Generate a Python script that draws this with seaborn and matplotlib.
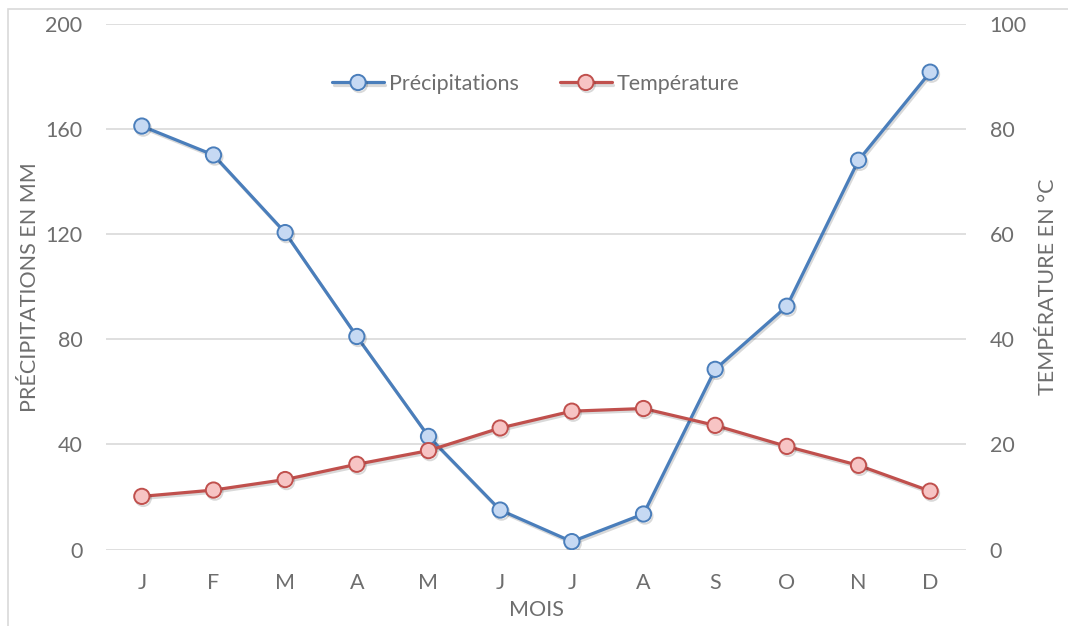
import matplotlib
matplotlib.use("Agg")
import matplotlib.pyplot as plt
import matplotlib.patheffects as pe
import seaborn as sns
import pandas as pd

months = ["J", "F", "M", "A", "M", "J", "J", "A", "S", "O", "N", "D"]
precipitations = [161, 150, 120.5, 81, 43, 15, 3, 13.5, 68.5, 92.5, 148, 181.5]
temperatures = [10.1, 11.3, 13.3, 16.2, 18.8, 23.1, 26.3, 26.8, 23.6, 19.6, 16.0, 11.1]
precip_ticks = [0, 40, 80, 120, 160, 200]
temp_ticks = [0, 20, 40, 60, 80, 100]

sns.set_theme(style="white")
plt.rcParams["font.family"] = ["Lato", "DejaVu Sans"]

W, H = 1068, 626
FS = 15.5
TXT = "#6e6e6e"
GRID = "#d9d9d9"
BLUE = "#4a7ebb"
BLUE_FACE = "#c6d9f3"
RED = "#c0504d"
RED_FACE = "#f7c4c4"

df = pd.DataFrame({"pos": range(len(months)), "mois": months,
                   "precip": precipitations, "temp": temperatures})

fig = plt.figure(figsize=(W / 100, H / 100), dpi=100)
ax = fig.add_axes([106 / W, 1 - 549.5 / H, 860 / W, 526 / H])
ax2 = ax.twinx()

shadow = [pe.SimpleLineShadow(offset=(1.0, -1.5), alpha=0.15, shadow_color="black"),
          pe.Normal()]

sns.lineplot(data=df, x="pos", y="precip", ax=ax, color=BLUE, lw=2.3,
             marker="o", markersize=11, markerfacecolor=BLUE_FACE,
             markeredgecolor=BLUE, markeredgewidth=1.4, label="Précipitations",
             legend=False, zorder=3)
sns.lineplot(data=df, x="pos", y="temp", ax=ax2, color=RED, lw=2.3,
             marker="o", markersize=11, markerfacecolor=RED_FACE,
             markeredgecolor=RED, markeredgewidth=1.4, label="Température",
             legend=False, zorder=3)
for line in ax.get_lines() + ax2.get_lines():
    line.set_path_effects(shadow)

ax.set_xlim(-0.5, len(months) - 0.5)
ax.set_ylim(0, 200)
ax2.set_ylim(0, 100)
ax.set_xticks(range(len(months)))
ax.set_xticklabels(months)
ax.set_yticks(precip_ticks)
ax2.set_yticks(temp_ticks)
ax.yaxis.grid(True, color=GRID, lw=1.2)
ax.set_axisbelow(True)
ax.set_xlabel("")
ax.set_ylabel("")
ax2.set_ylabel("")

for a in (ax, ax2):
    for s in a.spines.values():
        s.set_visible(False)
    a.tick_params(colors=TXT, labelsize=FS, length=0)
ax.tick_params(axis="y", pad=17)
ax2.tick_params(axis="y", pad=17)
ax.tick_params(axis="x", pad=17)

# axis titles
fig.text(30 / W, 1 - 287 / H, "PRÉCIPITATIONS EN MM", rotation=90, color=TXT,
         fontsize=FS, ha="center", va="center")
fig.text(1048 / W, 1 - 287 / H, "TEMPÉRATURE EN °C", rotation=90, color=TXT,
         fontsize=FS, ha="center", va="center")
fig.text(536 / W, 1 - 610 / H, "MOIS", color=TXT, fontsize=FS,
         ha="center", va="center")

handles = ax.get_lines()[:1] + ax2.get_lines()[:1]
leg = ax.legend(handles, ["Précipitations", "Température"], loc="center",
                bbox_to_anchor=(0.5, (549.5 - 84) / 526), ncol=2, frameon=False,
                fontsize=FS, handlelength=2.4, columnspacing=1.9,
                handletextpad=0.25, borderaxespad=0)
for t in leg.get_texts():
    t.set_color(TXT)

# light frame around the chart area
fig.patches.append(plt.Rectangle((8 / W, -0.05), 1.1, 1 - 9 / H + 0.05,
                                 transform=fig.transFigure, fill=False,
                                 edgecolor="#d9d9d9", lw=1.2))

fig.savefig("out.png", dpi=100)
